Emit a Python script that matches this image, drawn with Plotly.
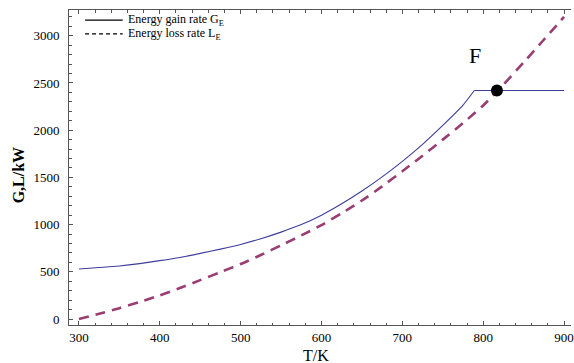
import plotly.graph_objects as go

# ---- data ----
T_gain = [300, 325, 350, 375, 400, 425, 450, 475, 500, 525, 550, 575, 600, 625,
          650, 675, 700, 725, 750, 775, 789, 800, 825, 850, 875, 900]
G_gain = [530, 545, 562, 587, 618, 652, 695, 740, 790, 850, 920, 1000, 1100, 1220,
          1355, 1505, 1670, 1850, 2050, 2265, 2420, 2420, 2420, 2420, 2420, 2420]
KINK = 20  # index where the gain rate saturates

T_loss = [300, 325, 350, 375, 400, 425, 450, 475, 500, 525, 550, 575, 600, 625,
          650, 675, 700, 725, 750, 775, 800, 825, 850, 875, 900]
L_loss = [0, 55, 115, 180, 250, 328, 412, 496, 582, 678, 780, 885, 995, 1120,
          1255, 1405, 1565, 1730, 1900, 2075, 2262, 2482, 2718, 2958, 3200]

F_T = [817]
F_V = [2420]

x_ticks = [300, 400, 500, 600, 700, 800, 900]
y_ticks = [0, 500, 1000, 1500, 2000, 2500, 3000]

legend_names = ["Energy gain rate G<sub>E</sub>", "Energy loss rate L<sub>E</sub>"]

SERIF = "Liberation Serif, Times New Roman, serif"
AX = "#555555"
G_COL = "#3d3d9c"
L_COL = "#993d72"

fig = go.Figure()
fig.add_trace(go.Scatter(x=T_gain[:KINK + 1], y=G_gain[:KINK + 1], mode="lines",
                         line=dict(color=G_COL, width=1.1, shape="spline", smoothing=0.6),
                         showlegend=False))
fig.add_trace(go.Scatter(x=T_gain[KINK:], y=G_gain[KINK:], mode="lines",
                         line=dict(color=G_COL, width=1.1), showlegend=False))
fig.add_trace(go.Scatter(x=T_loss, y=L_loss, mode="lines",
                         line=dict(color=L_COL, width=2.6, dash="10px,7px",
                                   shape="spline", smoothing=0.6),
                         showlegend=False))
fig.add_trace(go.Scatter(x=F_T, y=F_V, mode="markers",
                         marker=dict(color="black", size=12), showlegend=False))

# manual legend (black samples, tight rows as in the reference)
row_y = [0.968, 0.924]
dashes = ["solid", "4px,3px"]
shapes = []
annotations = []
for name, ry, d in zip(legend_names, row_y, dashes):
    shapes.append(dict(type="line", xref="paper", yref="paper", x0=0.032, x1=0.107,
                       y0=ry, y1=ry, line=dict(color="black", width=1.2, dash=d)))
    annotations.append(dict(text=name, x=0.114, y=ry, xref="paper", yref="paper",
                            xanchor="left", yanchor="middle", showarrow=False,
                            font=dict(family=SERIF, size=12, color="black")))

annotations += [
    dict(text="F", x=790, y=2790, xref="x", yref="y", showarrow=False,
         font=dict(family=SERIF, size=22, color="black")),
    dict(text="<b>G,L/kW</b>", x=-0.101, y=0.476, xref="paper", yref="paper",
         xanchor="center", yanchor="middle",
         showarrow=False, textangle=-90,
         font=dict(family=SERIF, size=16, color="black")),
    dict(text="T/K", x=0.493, y=-0.098, xref="paper", yref="paper",
         xanchor="center", yanchor="middle",
         showarrow=False, font=dict(family=SERIF, size=16, color="black")),
]

fig.update_layout(
    width=574, height=363,
    margin=dict(l=69, r=0, t=10, b=38),
    paper_bgcolor="white", plot_bgcolor="white",
    font=dict(family=SERIF, size=13, color="black"),
    showlegend=False,
    shapes=shapes,
    annotations=annotations,
)

fig.update_xaxes(range=[287.7, 908.6], tickvals=x_ticks, ticks="inside", ticklen=4,
                 tickcolor=AX, showline=True, linecolor=AX, linewidth=1,
                 mirror="ticks", showgrid=False, zeroline=False,
                 ticklabeloverflow="allow",
                 minor=dict(dtick=20, tick0=300, ticks="inside", ticklen=2.5, tickcolor=AX),
                 tickfont=dict(family=SERIF, size=13))
fig.update_yaxes(range=[-63.6, 3273], tickvals=y_ticks, ticks="inside", ticklen=4,
                 tickcolor=AX, showline=True, linecolor=AX, linewidth=1,
                 mirror=False, showgrid=False, zeroline=False,
                 minor=dict(dtick=100, tick0=0, ticks="inside", ticklen=2.5, tickcolor=AX),
                 tickfont=dict(family=SERIF, size=13), ticklabelstandoff=6)

fig.write_html("out.html")
